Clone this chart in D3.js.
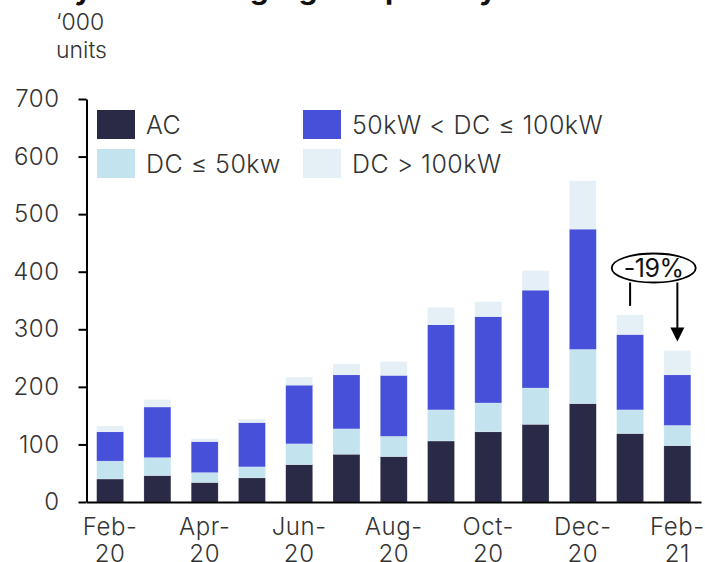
<!DOCTYPE html>
<html>
<head>
<meta charset="utf-8">
<script src="https://cdn.jsdelivr.net/npm/d3@7/dist/d3.min.js"></script>
<style>
  html, body { margin: 0; padding: 0; background: #fff; }
  svg { display: block; }
  text { font-family: Inter, "Liberation Sans", sans-serif; }
</style>
</head>
<body>
<svg id="chart" width="705" height="562"></svg>
<script>
// Monthly charger installations ('000 units), stacked by charging capacity
const months = ["Feb-20", "Mar-20", "Apr-20", "May-20", "Jun-20", "Jul-20", "Aug-20",
                "Sep-20", "Oct-20", "Nov-20", "Dec-20", "Jan-21", "Feb-21"];
const acUnits    = [40, 46, 34, 42, 65, 83, 79, 106, 122, 135, 171, 119, 98];
const dcUpTo50   = [31, 31, 17, 19, 36, 44, 35, 54, 50, 63, 94, 41, 35];
const dc50To100  = [51, 88, 54, 77, 102, 94, 106, 148, 150, 170, 209, 131, 88];
const dcOver100  = [10, 13, 5, 6, 14, 19, 24, 30, 26, 34, 84, 34, 42];

const seriesKeys   = ["ac", "dc50", "dc100", "dcHigh"];
const seriesLabels = ["AC", "DC ≤ 50kw", "50kW < DC ≤ 100kW", "DC > 100kW"];
const seriesColors = ["#2a2a46", "#c3e3ef", "#4650d9", "#e4f0f5"];

const yTicks = [0, 100, 200, 300, 400, 500, 600, 700];
const xTickLabels = ["Feb-20", "Apr-20", "Jun-20", "Aug-20", "Oct-20", "Dec-20", "Feb-21"];

const titleWords = ["by", "charging", "capacity"];
const unitLabel = ["‘000", "units"];
const changeLabel = "-19%";

const rows = months.map((m, i) => ({
  month: m, ac: acUnits[i], dc50: dcUpTo50[i], dc100: dc50To100[i], dcHigh: dcOver100[i]
}));

const svg = d3.select("#chart");
const textColor = "#333";

const x = d3.scaleBand().domain(months).range([86.5, 701]).paddingInner(0.43).paddingOuter(0.215);
const y = d3.scaleLinear().domain([0, 700]).range([502, 99]);
const color = d3.scaleOrdinal().domain(seriesKeys).range(seriesColors);

// Title (its first line sits above the visible area)
const title = svg.append("text")
  .attr("x", 56).attr("y", -1)
  .attr("font-size", 30).attr("font-weight", 700).attr("fill", "#111");
const titleGaps = [0, 80, 12];
const titleSpacing = [0, 1, 4];
title.selectAll("tspan").data(titleWords).join("tspan")
  .attr("dx", (d, i) => titleGaps[i])
  .attr("letter-spacing", (d, i) => titleSpacing[i])
  .text((d, i) => (i ? " " : "") + d);

// Unit label
const unit = svg.append("text").attr("font-size", 23).attr("font-weight", 300).attr("fill", textColor);
unit.selectAll("tspan").data(unitLabel).join("tspan")
  .attr("x", 56).attr("y", (d, i) => 30 + i * 27.5).text(d => d);

// Stacked bars
const stacked = d3.stack().keys(seriesKeys)(rows);
svg.append("g").selectAll("g").data(stacked).join("g")
  .attr("fill", d => color(d.key))
  .selectAll("rect").data(d => d).join("rect")
  .attr("x", d => x(d.data.month))
  .attr("width", x.bandwidth())
  .attr("y", d => y(d[1]))
  .attr("height", d => y(d[0]) - y(d[1]))
  .attr("stroke", "rgba(255,255,255,0.35)")
  .attr("stroke-width", 0.6);

// Y axis
const yAxis = svg.append("g")
  .attr("transform", "translate(86.5,0)")
  .call(d3.axisLeft(y).tickValues(yTicks).tickSize(8).tickSizeOuter(0).tickPadding(19));
yAxis.select(".domain").attr("stroke", "#000").attr("stroke-width", 2);
yAxis.selectAll(".tick line").attr("stroke", "#000").attr("stroke-width", 2);
yAxis.selectAll(".tick text")
  .attr("font-size", 24).attr("font-weight", 300).attr("fill", textColor)
  .attr("letter-spacing", 0.5)
  .attr("font-family", "Inter, 'Liberation Sans', sans-serif");

// X axis
const xAxis = svg.append("g")
  .attr("transform", "translate(0,502)")
  .call(d3.axisBottom(x).tickValues(xTickLabels).tickSize(0).tickSizeOuter(0).tickFormat(""));
xAxis.select(".domain").attr("stroke", "#000").attr("stroke-width", 2);
xAxis.selectAll(".tick").each(function(d) {
  const parts = d.split("-");
  const t = d3.select(this).select("text")
    .attr("font-size", 24).attr("font-weight", 300).attr("fill", textColor)
    .attr("letter-spacing", 0.6)
    .attr("font-family", "Inter, 'Liberation Sans', sans-serif")
    .attr("y", 0).attr("dy", null);
  t.append("tspan").attr("x", 0).attr("y", 33).text(parts[0] + "-");
  t.append("tspan").attr("x", 0).attr("y", 60).text(parts[1]);
});

// Legend
const legendPos = [[97, 110], [97, 149], [303, 110], [303, 149]];
const legendOrder = [0, 1, 2, 3];
const legend = svg.append("g").selectAll("g").data(legendOrder).join("g")
  .attr("transform", (d, i) => `translate(${legendPos[i][0]},${legendPos[i][1]})`);
legend.append("rect").attr("width", 38).attr("height", 29).attr("fill", d => seriesColors[d]);
legend.append("text")
  .attr("x", 49).attr("y", 14.5).attr("dy", "0.36em")
  .attr("font-size", 25).attr("font-weight", 300).attr("fill", textColor)
  .attr("letter-spacing", 0.5)
  .text(d => seriesLabels[d]);

// Month-on-month change annotation, Jan-21 -> Feb-21
const fromRow = rows[rows.length - 2], toRow = rows[rows.length - 1];
const total = r => seriesKeys.reduce((s, k) => s + r[k], 0);
const x0 = x(fromRow.month) + x.bandwidth() / 2;
const x1 = x(toRow.month) + x.bandwidth() / 2;
const ellipseCy = 268, ry = 14.5, rx = 42;
const ann = svg.append("g");
ann.append("line")
  .attr("x1", x0).attr("x2", x0)
  .attr("y1", ellipseCy + ry).attr("y2", y(total(fromRow)) - 9)
  .attr("stroke", "#000").attr("stroke-width", 2);
const tipY = y(total(toRow)) - 9;
ann.append("line")
  .attr("x1", x1).attr("x2", x1)
  .attr("y1", ellipseCy + ry).attr("y2", tipY - 12)
  .attr("stroke", "#000").attr("stroke-width", 2);
ann.append("path")
  .attr("d", `M${x1 - 7},${tipY - 14} L${x1 + 7},${tipY - 14} L${x1},${tipY} Z`)
  .attr("fill", "#000");
ann.append("ellipse")
  .attr("cx", (x0 + x1) / 2).attr("cy", ellipseCy)
  .attr("rx", rx).attr("ry", ry)
  .attr("fill", "#fff").attr("stroke", "#000").attr("stroke-width", 1.8);
ann.append("text")
  .attr("x", (x0 + x1) / 2).attr("y", ellipseCy).attr("dy", "0.36em")
  .attr("text-anchor", "middle")
  .attr("font-size", 25).attr("font-weight", 400).attr("fill", "#111")
  .attr("letter-spacing", -0.5)
  .text(changeLabel);
</script>
</body>
</html>
